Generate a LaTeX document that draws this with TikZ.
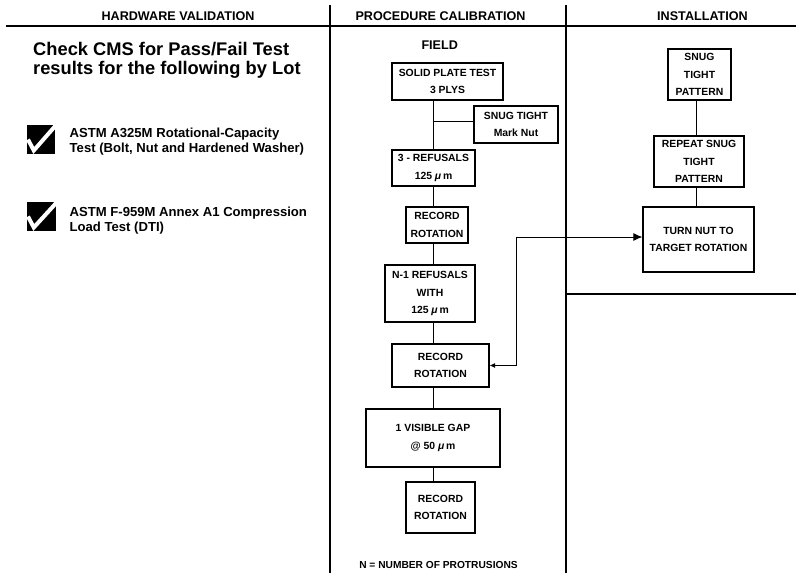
\documentclass[tikz,border=0pt]{standalone}
\usepackage{fontspec}
\setmainfont{Liberation Sans}
\usetikzlibrary{arrows.meta}
\begin{document}
\begin{tikzpicture}[x=1pt,y=-1pt,
  box/.style={draw, line width=1.2pt, inner sep=0pt, align=center,
    font=\bfseries\fontsize{10.4}{17.5}\selectfont},
  conn/.style={line width=0.9pt},
  divider/.style={line width=2.6pt},
  hdr/.style={font=\bfseries\fontsize{12.6}{14}\selectfont, anchor=base, inner sep=0pt},
  bigtxt/.style={font=\bfseries\fontsize{18.3}{20}\selectfont, anchor=base west, inner sep=0pt},
  itemtxt/.style={font=\bfseries\fontsize{13.1}{15}\selectfont, anchor=base west, inner sep=0pt},
  noteTxt/.style={font=\bfseries\fontsize{10.2}{12}\selectfont, anchor=base, inner sep=0pt},
  checkbox/.style={fill=black},
  checkmark/.style={draw=white, line width=4pt}
]
\useasboundingbox (0,0) rectangle (796,573);
\fill[white] (0,0) rectangle (796,573);

% dividers
\coordinate (hl) at (6,26);
\coordinate (hr) at (796,26);
\coordinate (v1t) at (330,5);
\coordinate (v1b) at (330,573);
\coordinate (v2t) at (566,5);
\coordinate (v2b) at (566,573);
\coordinate (h2l) at (566,294);
\coordinate (h2r) at (796,294);
\draw[line width=2.4pt] (hl) -- (hr);
\draw[divider] (v1t) -- (v1b);
\draw[divider] (v2t) -- (v2b);
\draw[line width=2.4pt] (h2l) -- (h2r);

% headers
\node[hdr] (h1) at (178,20.7) {HARDWARE VALIDATION};
\node[hdr] (h2) at (440.5,20.7) {PROCEDURE CALIBRATION};
\node[hdr] (h3) at (702.5,20.7) {INSTALLATION};

% left column
\node[bigtxt] (t1) at (33,55.5) {Check CMS for Pass/Fail Test};
\node[bigtxt] (t2) at (33,74.5) {results for the following by Lot};

\fill[checkbox] (27,125) rectangle (55,154);
\draw[checkmark] (28,139.5) -- (33.8,150.5) -- (57,124);
\node[itemtxt] (i1a) at (69.5,137) {ASTM A325M Rotational-Capacity};
\node[itemtxt] (i1b) at (69.5,152) {Test (Bolt, Nut and Hardened Washer)};

\fill[checkbox] (27,202) rectangle (56,231);
\draw[checkmark] (28,216.5) -- (33.8,227.5) -- (58,201);
\node[itemtxt] (i2a) at (69.5,216) {ASTM F-959M Annex A1 Compression};
\node[itemtxt] (i2b) at (69.5,231) {Load Test (DTI)};

% middle column
\node[hdr] (field) at (439.7,49.3) {FIELD};
\node[box, minimum width=111pt, minimum height=37pt] (b1) at (447.5,81.5) {SOLID PLATE TEST\\3 PLYS};
\node[box, minimum width=84pt, minimum height=37pt] (snug) at (516,124.5) {SNUG TIGHT\\Mark Nut};
\node[box, minimum width=83pt, minimum height=36pt] (b2) at (433.5,168) {3 - REFUSALS\\125 \textit{μ}\,m};
\node[box, minimum width=62pt, minimum height=36pt] (b3) at (437,225) {RECORD\\ROTATION};
\node[box, minimum width=90pt, minimum height=57pt] (b4) at (430,293.5) {N-1 REFUSALS\\WITH\\125 \textit{μ}\,m};
\node[box, minimum width=97pt, minimum height=43pt] (b5) at (440.5,365.5) {RECORD\\ROTATION};
\node[box, minimum width=134pt, minimum height=58pt] (b6) at (433,438) {1 VISIBLE GAP\\@ 50 \textit{μ}\,m};
\node[box, minimum width=69pt, minimum height=51pt] (b7) at (440.5,507.5) {RECORD\\ROTATION};
\node[noteTxt] (note) at (438.5,568) {N = NUMBER OF PROTRUSIONS};

\coordinate (spine) at (433,0);
\coordinate (j) at (433,121);
\draw[conn] (b1.south -| spine) -- (b2.north -| spine);
\draw[conn] (j) -- (j -| snug.west);
\draw[conn] (b2.south -| spine) -- (b3.north -| spine);
\draw[conn] (b3.south -| spine) -- (b4.north -| spine);
\draw[conn] (b4.south -| spine) -- (b5.north -| spine);
\draw[conn] (b5.south -| spine) -- (b6.north -| spine);
\draw[conn] (b6.south -| spine) -- (b7.north -| spine);

% right column
\node[box, minimum width=63pt, minimum height=51pt] (r1) at (699.5,74.5) {SNUG\\TIGHT\\PATTERN};
\node[box, minimum width=90pt, minimum height=51pt] (r2) at (699,161.5) {REPEAT SNUG\\TIGHT\\PATTERN};
\node[box, minimum width=111pt, minimum height=65pt] (r3) at (698.5,239.5) {TURN NUT TO\\TARGET ROTATION};
\coordinate (rsp) at (696,0);
\draw[conn] (r1.south -| rsp) -- (r2.north -| rsp);
\draw[conn] (r2.south -| rsp) -- (r3.north -| rsp);

% cross-column arrow
\coordinate (bend) at (516,237);
\draw[conn, {Latex[length=5.5pt,width=5pt]}-{Latex[length=9pt,width=8pt]}]
  (b5.east) -| (bend) -- (bend -| r3.west);
\end{tikzpicture}
\end{document}
